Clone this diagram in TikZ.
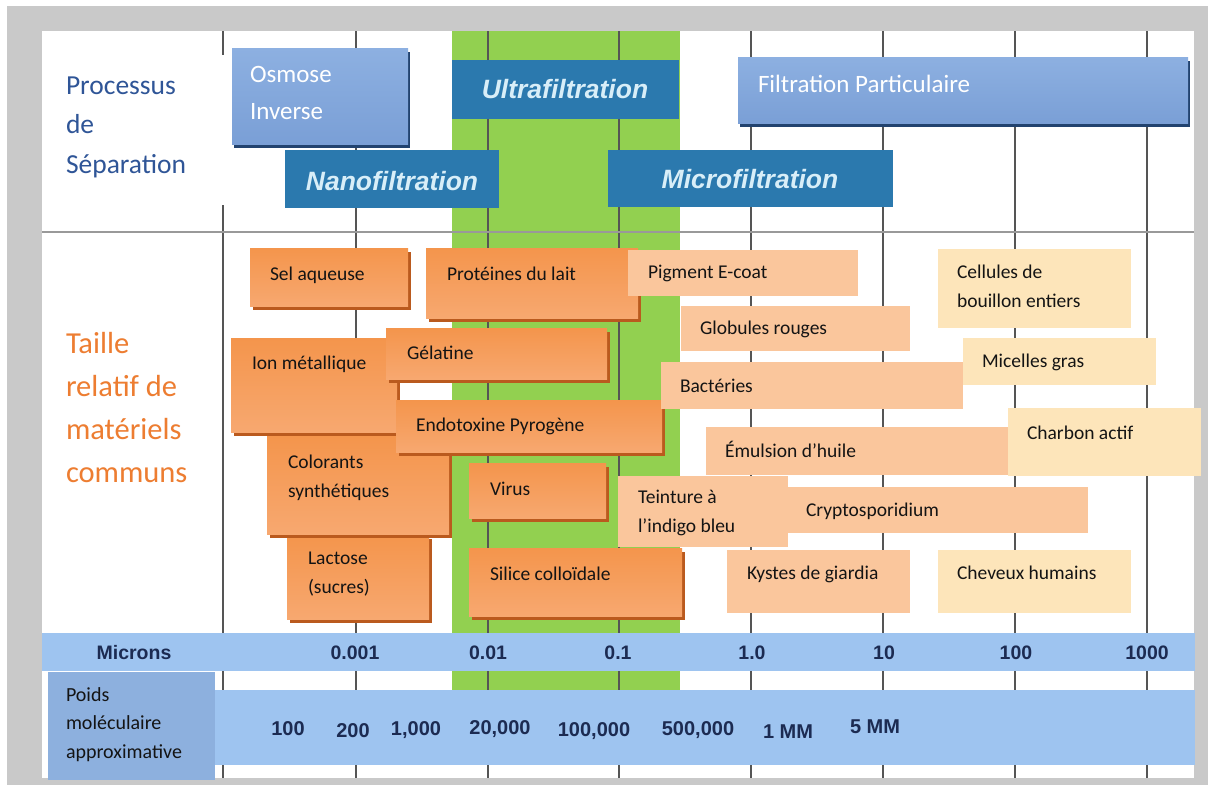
\documentclass[tikz,border=0pt]{standalone}
\usepackage{fontspec}
\setmainfont{Carlito}
\newfontfamily\lib{Liberation Sans}
\usetikzlibrary{shadows}
\definecolor{framec}{HTML}{C9C9C9}
\definecolor{grn}{HTML}{92D050}
\definecolor{gridc}{HTML}{555555}
\definecolor{flatblue}{HTML}{2B79AE}
\definecolor{bartxt}{HTML}{1C2B52}
\definecolor{barblue}{HTML}{9EC4F0}
\definecolor{poidsblue}{HTML}{8DB0DE}
\definecolor{procblue}{HTML}{2F5597}
\definecolor{tailleor}{HTML}{ED7D31}
\definecolor{peach}{HTML}{FAC69C}
\definecolor{paley}{HTML}{FDE5BA}
\definecolor{oshadow}{HTML}{BA5A1E}
\definecolor{bshadow}{HTML}{22436F}
\definecolor{lbltxt}{HTML}{141414}
\definecolor{italtxt}{HTML}{D8EEF8}
\definecolor{otop}{HTML}{F4954C}
\definecolor{omid}{HTML}{F39046}
\definecolor{obot}{HTML}{F7A870}
\definecolor{btop}{HTML}{8DB0E1}
\definecolor{bmid}{HTML}{4E7CC0}
\definecolor{bbot}{HTML}{7A9FD6}
\begin{document}
\begin{tikzpicture}[x=1pt,y=-1pt,
  every node/.style={inner sep=0pt,outer sep=0pt},
  gridline/.style={draw=gridc,line width=1.3pt},
  obox/.style={anchor=north west,top color=otop,middle color=omid,bottom color=obot,
    drop shadow={shadow xshift=3pt,shadow yshift=-4pt,fill=oshadow,opacity=1}},
  gbox/.style={anchor=north west,top color=btop,middle color=bmid,bottom color=bbot,
    drop shadow={shadow xshift=2pt,shadow yshift=-4pt,fill=bshadow,opacity=1}},
  fbox/.style={anchor=north west,fill=flatblue},
  pbox/.style={anchor=north west,fill=peach},
  ybox/.style={anchor=north west,fill=paley},
  lbl/.style={anchor=base west,align=left,text=lbltxt,font=\fontsize{19.5}{29}\selectfont},
  itl/.style={text=italtxt,font=\lib\bfseries\itshape\fontsize{26.5}{30}\selectfont},
  proc/.style={anchor=base west,align=left,text=white,font=\fontsize{25}{37}\selectfont},
  bnum/.style={text=bartxt,font=\lib\bfseries\fontsize{19.5}{22}\selectfont},
  pnum/.style={text=bartxt,font=\lib\bfseries\fontsize{20}{22}\selectfont}]
\useasboundingbox (0,0) rectangle (1215,785);
\fill[white] (0,0) rectangle (1215,785);
\fill[framec] (7,6) rectangle (1208,785);
\fill[white] (42,31) rectangle (1194,778);
% green ultrafiltration band
\fill[grn] (452,31) rectangle (680,690);
% grid
\foreach \gx in {223,356,488,619,751,883,1015,1147}
  \draw[gridline] (\gx,31) -- (\gx,778);
\draw[gridline,draw=gray!80] (42,232) -- (1194,232);
\fill[white] (52,55) rectangle (229,205);

% left titles (base = last line)
\node[anchor=base west,align=left,text=procblue,font=\fontsize{27.5}{39.5}\selectfont] (proctitle) at (66,173) {Processus\\de\\Séparation};
\node[anchor=base west,align=left,text=tailleor,font=\fontsize{30.5}{43}\selectfont] (tailletitle) at (66,482) {Taille\\relatif de\\matériels\\communs};

% process boxes
\node[gbox,minimum width=176,minimum height=96] (osm) at (232,48) {};
\node[proc] (osmT) at (250,119) {Osmose\\Inverse};
\node[fbox,minimum width=227,minimum height=59] (ultra) at (452,60) {};
\node[itl] (ultraT) at (565,89) {Ultrafiltration};
\node[gbox,minimum width=450,minimum height=66] (fpart) at (738,57) {};
\node[proc] (fpartT) at (758,92) {Filtration Particulaire};
\node[fbox,minimum width=214,minimum height=58] (nano) at (285,150) {};
\node[itl] (nanoT) at (392,181) {Nanofiltration};
\node[fbox,minimum width=285,minimum height=57] (micro) at (608,150) {};
\node[itl] (microT) at (750,179) {Microfiltration};

% orange (dark) boxes
\node[obox,minimum width=158,minimum height=58] (sel) at (250,248) {};
\node[lbl] (selT) at (270,280) {Sel aqueuse};
\node[obox,minimum width=212,minimum height=70] (prot) at (426,248) {};
\node[lbl] (protT) at (447,280) {Protéines du lait};
\node[obox,minimum width=142,minimum height=84] (lact) at (287,535) {};
\node[lbl] (lactT) at (308,593) {Lactose\\(sucres)};
\node[obox,minimum width=182,minimum height=98] (color) at (267,436) {};
\node[lbl] (colorT) at (288,497) {Colorants\\synthétiques};
\node[obox,minimum width=166,minimum height=94] (ion) at (231,338) {};
\node[lbl] (ionT) at (252,369) {Ion métallique};
\node[obox,minimum width=221,minimum height=51] (gel) at (386,328) {};
\node[lbl] (gelT) at (407,359) {Gélatine};
\node[obox,minimum width=266,minimum height=52] (endo) at (396,400) {};
\node[lbl] (endoT) at (416,431) {Endotoxine Pyrogène};
\node[obox,minimum width=137,minimum height=55] (virus) at (469,463) {};
\node[lbl] (virusT) at (490,495) {Virus};

% peach boxes
\node[pbox,minimum width=230,minimum height=46] (pig) at (628,250) {};
\node[lbl] (pigT) at (648,278) {Pigment E-coat};
\node[pbox,minimum width=229,minimum height=45] (glob) at (681,306) {};
\node[lbl] (globT) at (700,334) {Globules rouges};
\node[pbox,minimum width=302,minimum height=47] (bact) at (661,362) {};
\node[lbl] (bactT) at (680,392) {Bactéries};
\node[pbox,minimum width=302,minimum height=48] (emul) at (706,427) {};
\node[lbl] (emulT) at (725,457) {Émulsion d'huile};
\node[pbox,minimum width=300,minimum height=46] (crypto) at (788,487) {};
\node[lbl] (cryptoT) at (806,516) {Cryptosporidium};
\node[pbox,minimum width=170,minimum height=71] (teint) at (618,476) {};
\node[lbl] (teintT) at (638,532) {Teinture à\\l'indigo bleu};
\node[pbox,minimum width=183,minimum height=63] (kyst) at (727,550) {};
\node[lbl] (kystT) at (747,579) {Kystes de giardia};

% silice (over teinture)
\node[obox,minimum width=213,minimum height=68] (sil) at (469,548) {};
\node[lbl] (silT) at (490,580) {Silice colloïdale};

% pale yellow boxes
\node[ybox,minimum width=193,minimum height=79] (cell) at (938,249) {};
\node[lbl] (cellT) at (957,307) {Cellules de\\bouillon entiers};
\node[ybox,minimum width=193,minimum height=47] (mic) at (963,338) {};
\node[lbl] (micT) at (982,367) {Micelles gras};
\node[ybox,minimum width=193,minimum height=68] (charb) at (1008,408) {};
\node[lbl] (charbT) at (1027,439) {Charbon actif};
\node[ybox,minimum width=193,minimum height=63] (chev) at (938,550) {};
\node[lbl] (chevT) at (957,579) {Cheveux humains};

% microns bar
\node[anchor=north west,fill=barblue,minimum width=1153,minimum height=38] (mbar) at (42,633) {};
\node[bnum] (mic0) at (134,653) {Microns};
\node[bnum] (m1) at (355,653) {0.001};
\node[bnum] (m2) at (488,653) {0.01};
\node[bnum] (m3) at (618,653) {0.1};
\node[bnum] (m4) at (752,653) {1.0};
\node[bnum] (m5) at (884,653) {10};
\node[bnum] (m6) at (1016,653) {100};
\node[bnum] (m7) at (1147,653) {1000};

% poids bar
\node[anchor=north west,fill=barblue,minimum width=980,minimum height=75] (pbar) at (215,690) {};
\node[anchor=north west,fill=poidsblue,minimum width=167,minimum height=108] (pbox) at (48,672) {};
\node[anchor=base west,align=left,text=lbltxt,font=\fontsize{20}{28.5}\selectfont] (poidsT) at (66,758) {Poids\\moléculaire\\approximative};
\node[pnum] (w1) at (288,729) {100};
\node[pnum] (w2) at (353,731) {200};
\node[pnum] (w3) at (416,730) {1,000};
\node[pnum] (w4) at (500,729) {20,000};
\node[pnum] (w5) at (594,731) {100,000};
\node[pnum] (w6) at (698,730) {500,000};
\node[pnum] (w7) at (788,732) {1 MM};
\node[pnum] (w8) at (875,727) {5 MM};
\end{tikzpicture}
\end{document}
